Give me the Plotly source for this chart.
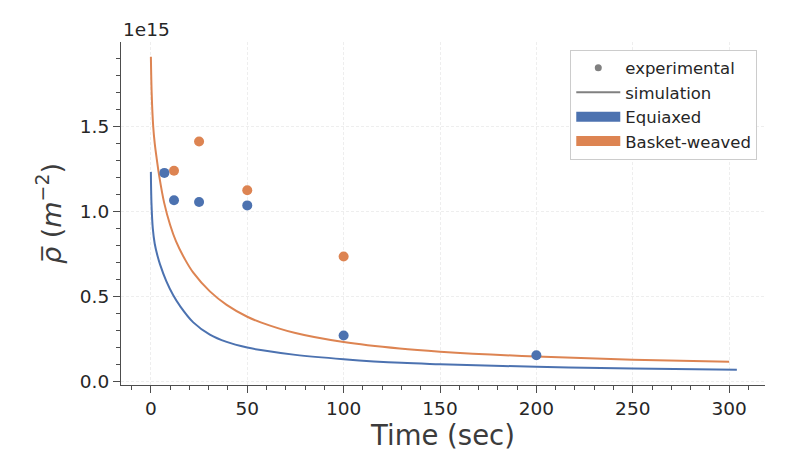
import plotly.graph_objects as go

blue = '#4c72b0'
orange = '#dd8452'
gray = '#808080'
text_color = '#262626'

# experimental points (rho in units of 1e15 m^-2)
exp_eq_t = [7, 12, 25, 50, 100, 200]
exp_eq_rho = [1.226, 1.065, 1.055, 1.035, 0.271, 0.155]
exp_bw_t = [12, 25, 50, 100]
exp_bw_rho = [1.239, 1.41, 1.124, 0.735]

# simulation curves
sim_eq_t = [0, 0.3, 1, 2, 3.5, 4.7, 8, 11.6, 15, 22, 30.6, 39.3, 50, 57, 75, 100,
            130, 150, 200, 250, 304]
sim_eq_rho = [1.232, 1.05, 0.9, 0.81, 0.736, 0.69, 0.59, 0.507, 0.446, 0.348, 0.276,
              0.233, 0.200, 0.185, 0.157, 0.132, 0.11, 0.102, 0.087, 0.077, 0.069]
sim_bw_t = [0, 0.4, 1.2, 2, 3.1, 4.3, 6.9, 10, 13, 17.6, 22, 30.6, 39.3, 50, 57, 75,
            100, 129, 150, 200, 250, 300]
sim_bw_rho = [1.908, 1.7, 1.5, 1.4, 1.304, 1.21, 1.05, 0.92, 0.825, 0.72, 0.64, 0.53,
              0.451, 0.381, 0.348, 0.285, 0.232, 0.194, 0.176, 0.147, 0.128, 0.116]

fig = go.Figure()

fig.add_trace(go.Scatter(x=sim_eq_t, y=sim_eq_rho, mode='lines',
                         line=dict(color=blue, width=2, shape='spline', smoothing=1),
                         showlegend=False))
fig.add_trace(go.Scatter(x=sim_bw_t, y=sim_bw_rho, mode='lines',
                         line=dict(color=orange, width=2, shape='spline', smoothing=1),
                         showlegend=False))
fig.add_trace(go.Scatter(x=exp_bw_t, y=exp_bw_rho, mode='markers',
                         marker=dict(color=orange, size=10), showlegend=False))
fig.add_trace(go.Scatter(x=exp_eq_t, y=exp_eq_rho, mode='markers',
                         marker=dict(color=blue, size=10), showlegend=False))

# legend entries
fig.add_trace(go.Scatter(x=[None], y=[None], mode='markers', name='experimental',
                         marker=dict(color=gray, size=7)))
fig.add_trace(go.Scatter(x=[None], y=[None], mode='lines', name='simulation',
                         line=dict(color=gray, width=2)))
fig.add_trace(go.Scatter(x=[None], y=[None], mode='lines', name='Equiaxed',
                         line=dict(color=blue, width=12)))
fig.add_trace(go.Scatter(x=[None], y=[None], mode='lines', name='Basket-weaved',
                         line=dict(color=orange, width=12)))

# the page body keeps an 8px margin, so the figure is sized to fit inside it
fig.update_layout(
    width=773, height=457,
    plot_bgcolor='white',
    paper_bgcolor='white',
    margin=dict(l=113, r=16, t=34, b=80),
    font=dict(family='DejaVu Sans', color=text_color, size=18),
    legend=dict(
        x=0.988, y=0.978, xanchor='right', yanchor='top',
        bgcolor='white', bordercolor='#cccccc', borderwidth=1,
        font=dict(size=16.5, color=text_color),
        tracegroupgap=0, itemwidth=44
    ),
    annotations=[dict(
        text='1e15', xref='paper', yref='paper', x=0, y=1,
        xanchor='left', yanchor='bottom', showarrow=False,
        font=dict(size=18.5, color=text_color)
    )]
)
fig.update_xaxes(
    range=[-15.5, 318.6],
    dtick=50, tick0=0,
    showline=True, linecolor='#4d4d4d', linewidth=1.2,
    ticks='outside', ticklen=7, tickcolor='#4d4d4d',
    minor=dict(dtick=10, ticks='outside', ticklen=4, tickcolor='#4d4d4d', showgrid=False),
    showgrid=True, gridcolor='#eeeeee', griddash='3px,2px', gridwidth=1,
    zeroline=False,
    tickfont=dict(size=18.5),
    title=dict(text='Time (sec)', font=dict(size=27.5, color='#3c3c3c'), standoff=6)
)
fig.update_yaxes(
    range=[-0.02, 1.995],
    dtick=0.5, tick0=0, tickformat='.1f',
    showline=True, linecolor='#4d4d4d', linewidth=1.2,
    ticks='outside', ticklen=7, tickcolor='#4d4d4d',
    minor=dict(dtick=0.1, ticks='outside', ticklen=4, tickcolor='#4d4d4d', showgrid=False),
    showgrid=True, gridcolor='#eeeeee', griddash='3px,2px', gridwidth=1,
    zeroline=False,
    tickfont=dict(size=18.5),
    title=dict(text='<i>ρ̅</i> (<i>m</i><sup>−2</sup>)', font=dict(size=27, color='#3c3c3c'),
               standoff=10)
)

fig.write_html("out.html")
